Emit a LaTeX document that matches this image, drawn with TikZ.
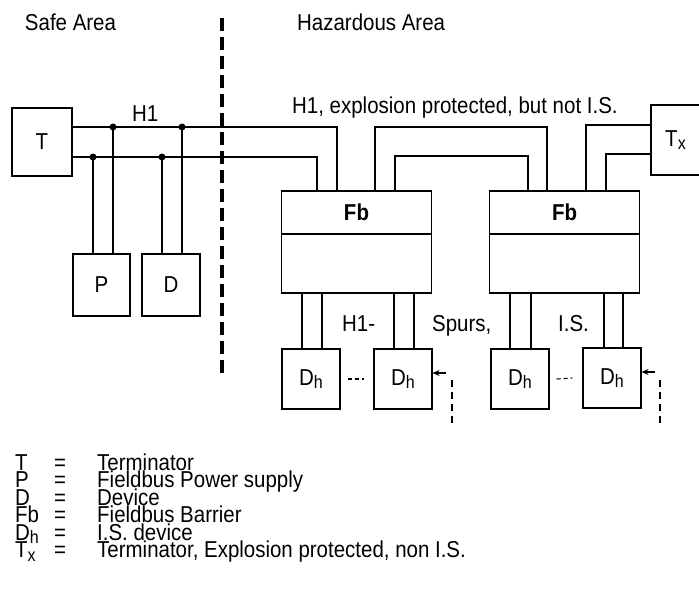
\documentclass[tikz,border=0pt]{standalone}
\usepackage{fontspec}
\setmainfont{Liberation Sans}[FakeStretch=0.89]
\usepackage{tikz}
\usetikzlibrary{arrows.meta,positioning}
\newcommand\lowsub[1]{\raisebox{-0.3ex}{\fontsize{18}{18}\selectfont #1}}

\begin{document}
\begin{tikzpicture}[
  x=1pt,
  y=-1pt,
  font=\fontsize{23}{23}\selectfont,
  box/.style={draw,line width=1.1pt,inner sep=0pt},
  fbtop/.style={box,outer sep=0pt,minimum width=150pt,minimum height=43pt,font=\fontsize{23}{23}\selectfont\bfseries},
  fbbot/.style={box,outer sep=0pt,minimum width=150pt,minimum height=59pt},
  dev/.style={box,minimum width=58pt,minimum height=60pt},
  wire/.style={line width=1.1pt},
  junction/.style={circle,fill,inner sep=0pt,minimum size=7pt},
  zone/.style={line width=4.5pt,dash pattern=on 13pt off 6pt},
  feedline/.style={line width=1.1pt,dash pattern=on 7pt off 5pt},
  feed/.style={line width=1.1pt,-{Stealth[length=7pt,width=6pt]}},
  more/.style={line width=1.1pt,dash pattern=on 4pt off 3pt},
  label/.style={anchor=base west,inner sep=0pt}
]
  \useasboundingbox (0,0) rectangle (699,613);

  % zones
  \node[label,anchor=base] (safe) at (70.5,30) {Safe Area};
  \node[label] (haz) at (297,30) {Hazardous Area};
  \coordinate (sa) at (222,18);
  \coordinate (sb) at (222,373);
  \draw[zone] (sa) -- (sb);

  % safe side
  \node[box,minimum width=60pt,minimum height=68pt] (t) at (42,142) {T};
  \node[dev,minimum width=57pt,minimum height=62pt] (p) at (101.5,285) {P};
  \node[dev,minimum height=62pt] (d) at (171,285) {D};
  \node[label] (h1) at (132,121) {H1};

  % hazardous side
  \node[fbtop] (fb1) at (356.5,212.5) {Fb};
  \node[fbbot,below=0pt of fb1] (fb1b) {};
  \node[fbtop] (fb2) at (564.5,212.5) {Fb};
  \node[fbbot,below=0pt of fb2] (fb2b) {};
  \node[box,minimum width=49pt,minimum height=70pt] (tx) at (675.5,140) {T\lowsub{x}};
  \node[label] (trunk) at (292,113) {H1, explosion protected, but not I.S.};

  \node[dev] (dh1) at (311,379) {D\lowsub{h}};
  \node[dev] (dh2) at (403,379) {D\lowsub{h}};
  \node[dev] (dh3) at (520,379) {D\lowsub{h}};
  \node[dev] (dh4) at (612,378) {D\lowsub{h}};
  \node[label] (spa) at (342,331) {H1-};
  \node[label] (spb) at (432,331) {Spurs,};
  \node[label] (spc) at (558,331) {I.S.};

  % H1 trunk
  \coordinate (ja) at (113,127);
  \coordinate (jb) at (182,127);
  \coordinate (jc) at (93,157);
  \coordinate (jd) at (162,157);
  \draw[wire] (t.east |- ja) -- (ja) -- (jb) -| ([xshift=-19.5pt]fb1.north);
  \draw[wire] (t.east |- jc) -- (jc) -- (jd) -| ([xshift=-39.5pt]fb1.north);
  \draw[wire] (ja) -- (ja |- p.north);
  \draw[wire] (jc) -- (jc |- p.north);
  \draw[wire] (jb) -- (jb |- d.north);
  \draw[wire] (jd) -- (jd |- d.north);
  \node[junction] (dja) at (ja) {};
  \node[junction] (djb) at (jb) {};
  \node[junction] (djc) at (jc) {};
  \node[junction] (djd) at (jd) {};

  \draw[wire] ([xshift=18.5pt]fb1.north) -- ++(0,-64) -| ([xshift=-17.5pt]fb2.north);
  \draw[wire] ([xshift=38.5pt]fb1.north) -- ++(0,-35) -| ([xshift=-36.5pt]fb2.north);
  \draw[wire] ([xshift=21.5pt]fb2.north) |- ([yshift=15pt]tx.west);
  \draw[wire] ([xshift=41.5pt]fb2.north) |- ([yshift=-14pt]tx.west);

  % spurs
  \draw[wire] ([xshift=-9pt]dh1.north) -- ([xshift=-9pt]dh1.north |- fb1b.south);
  \draw[wire] ([xshift=11pt]dh1.north) -- ([xshift=11pt]dh1.north |- fb1b.south);
  \draw[wire] ([xshift=-9pt]dh2.north) -- ([xshift=-9pt]dh2.north |- fb1b.south);
  \draw[wire] ([xshift=11pt]dh2.north) -- ([xshift=11pt]dh2.north |- fb1b.south);
  \draw[wire] ([xshift=-10pt]dh3.north) -- ([xshift=-10pt]dh3.north |- fb2b.south);
  \draw[wire] ([xshift=11pt]dh3.north) -- ([xshift=11pt]dh3.north |- fb2b.south);
  \draw[wire] ([xshift=-8pt]dh4.north) -- ([xshift=-8pt]dh4.north |- fb2b.south);
  \draw[wire] ([xshift=11pt]dh4.north) -- ([xshift=11pt]dh4.north |- fb2b.south);
  \draw[more] ([xshift=7pt]dh1.east) -- ([xshift=-9pt]dh2.west);
  \draw[more] ([xshift=7pt]dh3.east) -- ([xshift=-10pt]dh4.west);

  % external feeds
  \coordinate (fa) at (452,423);
  \coordinate (fc) at (660,423);
  \draw[feedline] (fa) -- ++(0,-47);
  \draw[feedline] (fc) -- ++(0,-47);
  \draw[feed] ([xshift=13pt,yshift=6pt]dh2.east) -- ([yshift=6pt]dh2.east);
  \draw[feed] ([xshift=13pt,yshift=6pt]dh4.east) -- ([yshift=6pt]dh4.east);

  % legend
  \node[label] (k1) at (15,470) {T};
  \node[label] (k2) at (15,487.5) {P};
  \node[label] (k3) at (15,505) {D};
  \node[label] (k4) at (15,522.5) {Fb};
  \node[label] (k5) at (15,540) {D\lowsub{h}};
  \node[label] (k6) at (15,557.5) {T\lowsub{x}};
  \node[label] (e1) at (54,470) {=};
  \node[label] (e2) at (54,487.5) {=};
  \node[label] (e3) at (54,505) {=};
  \node[label] (e4) at (54,522.5) {=};
  \node[label] (e5) at (54,540) {=};
  \node[label] (e6) at (54,557.5) {=};
  \node[label] (v1) at (97,470) {Terminator};
  \node[label] (v2) at (97,487.5) {Fieldbus Power supply};
  \node[label] (v3) at (97,505) {Device};
  \node[label] (v4) at (97,522.5) {Fieldbus Barrier};
  \node[label] (v5) at (97,540) {I.S. device};
  \node[label] (v6) at (97,557.5) {Terminator, Explosion protected, non I.S.};
\end{tikzpicture}
\end{document}
